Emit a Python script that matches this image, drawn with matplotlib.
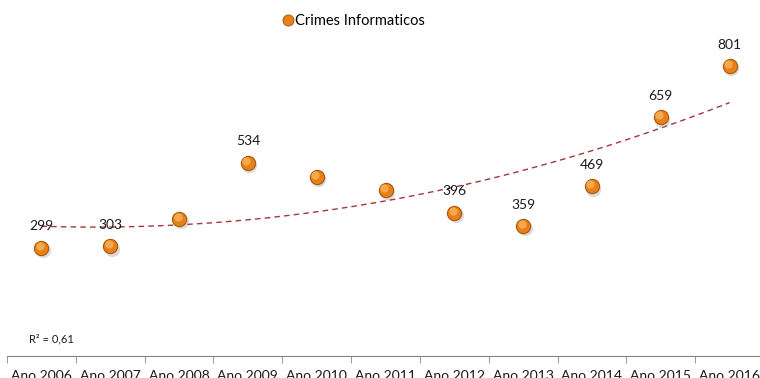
import matplotlib.pyplot as plt
import matplotlib.transforms as mtransforms
from matplotlib.lines import Line2D
import numpy as np

plt.rcParams['font.family'] = ['Lato', 'DejaVu Sans']

# Data
years = ["Ano 2006", "Ano 2007", "Ano 2008", "Ano 2009", "Ano 2010", "Ano 2011",
         "Ano 2012", "Ano 2013", "Ano 2014", "Ano 2015", "Ano 2016"]
crimes = [299, 303, 379, 534, 495, 459, 396, 359, 469, 659, 801]
# which points carry a data label in the original
show_label = [True, True, False, True, False, False, True, True, True, True, True]
r2_text = "R² = 0,61"

x = np.arange(1, len(years) + 1)

fig = plt.figure(figsize=(7.6, 3.78), dpi=100)
ax = fig.add_axes([7 / 760, 1 - 356 / 378, 757 / 760, (356 - 30) / 378])

# Polynomial (order 2) trendline
coef = np.polyfit(x, crimes, 2)
xt = np.linspace(1, 11, 200)
ax.plot(xt, np.polyval(coef, xt), color='#A5373A', lw=1.0, ls=(0, (4, 3)), zorder=2)

# Sphere-like markers: shadow, body, highlight
shadow = mtransforms.offset_copy(ax.transData, fig=fig, x=1.5, y=-2.5, units='dots')
hl = mtransforms.offset_copy(ax.transData, fig=fig, x=-1.5, y=2.0, units='dots')
ax.scatter(x, crimes, s=120, color='#9a9a9a', alpha=0.35, lw=0, transform=shadow, zorder=3)
ax.scatter(x, crimes, s=105, color='#E8801A', edgecolor='#A65A0C', lw=0.8, zorder=4)
ax.scatter(x, crimes, s=35, color='#F7AE52', lw=0, alpha=0.9, transform=hl, zorder=5)

# Data labels
for xi, v, show in zip(x, crimes, show_label):
    if show:
        ax.annotate(str(v), (xi, v), xytext=(0, 11), textcoords='offset points',
                    ha='center', va='bottom', fontsize=10, color='#1a1a1a', zorder=6)

ax.text(22 / 757, 17 / 326, r2_text, transform=ax.transAxes,
        fontsize=8, color='#1a1a1a', ha='left', va='center')

ax.set_xlim(0.5, 11.5)
ax.set_ylim(0, 900)
ax.set_xticks(x)
ax.set_xticklabels(years, fontsize=10, color='#1a1a1a')
ax.set_xticks(np.arange(0.5, 12, 1), minor=True)
ax.tick_params(axis='x', which='major', length=0, pad=10)
ax.tick_params(axis='x', which='minor', length=5, color='#868686')
ax.set_yticks([])
for s in ['top', 'right', 'left']:
    ax.spines[s].set_visible(False)
ax.spines['bottom'].set_color('#868686')

handle = Line2D([], [], ls='none', marker='o', ms=8, mfc='#E8801A', mec='#A65A0C', mew=0.6)
fig.legend([handle], ["Crimes Informaticos"], loc='center', bbox_to_anchor=(353 / 760, 1 - 21 / 378),
           frameon=False, fontsize=10.5, handletextpad=0.0, handlelength=1.0)

fig.savefig("out.png", dpi=100)
